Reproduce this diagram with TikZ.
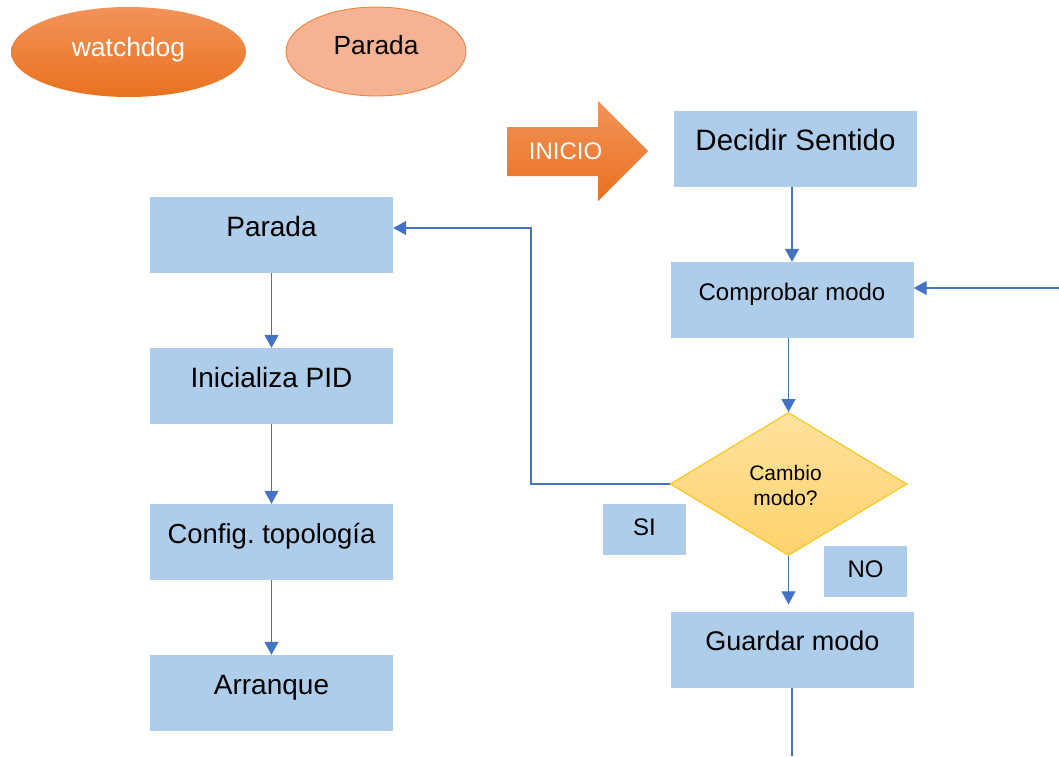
\documentclass[tikz,border=0pt]{standalone}
\usepackage{fontspec}
\setmainfont{Liberation Sans}
\frenchspacing
\usetikzlibrary{shapes.geometric,arrows.meta}
\definecolor{boxblue}{HTML}{AECDEA}
\definecolor{lineblue}{HTML}{4472C4}
\definecolor{orangeA}{HTML}{F2935A}
\definecolor{orangeB}{HTML}{E9711F}
\definecolor{peach}{HTML}{F5B394}
\definecolor{peachline}{HTML}{ED7D31}
\definecolor{goldA}{HTML}{FFE29E}
\definecolor{goldB}{HTML}{FFD26C}
\definecolor{goldline}{HTML}{FFC000}
\tikzset{
  stepbox/.style={rectangle, fill=boxblue, draw=none, minimum width=243pt, minimum height=76pt,
    inner sep=0pt, font=\fontsize{#1}{34}\selectfont, text height=20pt, text depth=18pt},
  stepbox/.default=28,
  smallbox/.style={stepbox, font=\fontsize{24}{29}\selectfont, text height=17.2pt, text depth=16pt},
  tagbox/.style={rectangle, fill=boxblue, draw=none, minimum width=83pt, minimum height=51pt,
    inner sep=0pt, font=\fontsize{24}{29}\selectfont, text height=17.2pt, text depth=6pt},
  conn/.style={draw=lineblue, line width=1.2pt},
  arr/.style={conn, -{Triangle[length=13pt,width=14pt]}},
}
\begin{document}
\begin{tikzpicture}[x=1pt,y=-1pt]
\useasboundingbox (0,0) rectangle (1059,756);

% ellipses
\node[ellipse, top color=orangeA, bottom color=orangeB, draw=none, minimum width=235pt, minimum height=90pt,
  inner sep=0pt, text=white, font=\fontsize{26.5}{31}\selectfont, text height=19pt, text depth=10pt]
  (wd) at (128.5,52) {watchdog};
\node[ellipse, fill=peach, draw=peachline, line width=0.8pt, minimum width=180pt, minimum height=89pt,
  inner sep=0pt, font=\fontsize{26.3}{31}\selectfont, text height=18.8pt, text depth=12pt]
  (pe) at (376,51.5) {Parada};

% INICIO arrow
\shade[top color=orangeA, bottom color=orangeB]
  (507,127) -- (598,127) -- (598,101) -- (648,151) -- (598,201) -- (598,176) -- (507,176) -- cycle;
\node[inner sep=0pt, text=white, font=\fontsize{24}{29}\selectfont, text height=17.2pt, text depth=0pt]
  (inicio) at (565.5,150.5) {INICIO};

% left column
\node[stepbox] (pa) at (271.5,235) {Parada};
\node[stepbox] (ip) at (271.5,386) {Inicializa PID};
\node[stepbox=27.5] (ct) at (271.5,542) {Config. topología};
\node[stepbox] (ar) at (271.5,693) {Arranque};

% right column
\node[stepbox=29.5] (ds) at (795.5,149) {Decidir Sentido};
\node[smallbox] (cm) at (792,300) {Comprobar modo};
\node[diamond, top color=goldA, bottom color=goldB, draw=goldline, line width=0.9pt,
  minimum width=237pt, minimum height=143pt, aspect=1.657, inner sep=0pt, align=center,
  font=\fontsize{21}{25}\selectfont] (dia) at (788.5,484) {};
\node[align=center, inner sep=0pt, font=\fontsize{21}{25}\selectfont] (diat) at (785.5,485) {Cambio\\modo?};
\node[stepbox=27] (gm) at (792.5,649.5) {Guardar modo};
\node[tagbox] (si) at (644.5,529.5) {SI};
\node[tagbox] (no) at (865.5,571.5) {NO};

% connectors
\coordinate (rin) at (1059,288);
\coordinate (bend) at (531,228);
\coordinate (bot) at (792,756);
\draw[arr] (ds.south -| cm.north) -- (cm.north);
\draw[arr] (cm.south -| dia.north) -- (dia.north);
\draw[arr] (rin) -- (cm.east |- rin);
\draw[arr] (dia.west) -| (bend) -- (pa.east |- bend);
\draw[arr, shorten >=7pt] (dia.south) -- (dia.south |- gm.north);
\draw[conn] (gm.south -| bot) -- (bot);
\draw[arr] (pa.south) -- (ip.north);
\draw[arr] (ip.south) -- (ct.north);
\draw[arr] (ct.south) -- (ar.north);
\end{tikzpicture}
\end{document}
